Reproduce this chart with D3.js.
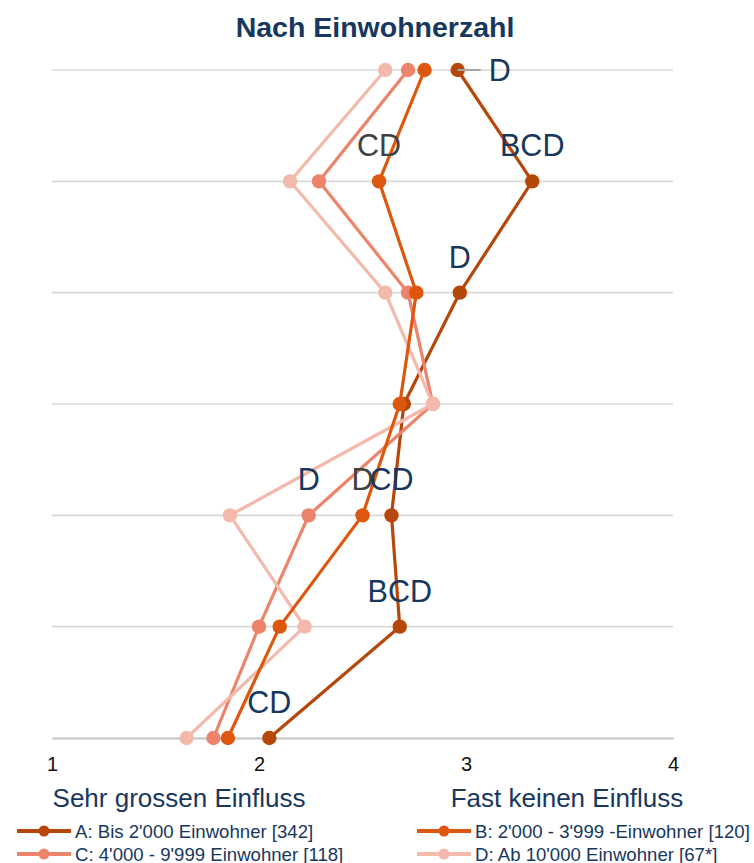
<!DOCTYPE html>
<html>
<head>
<meta charset="utf-8">
<script src="https://cdn.jsdelivr.net/npm/d3@7"></script>
<style>
  html, body { margin: 0; padding: 0; background: #fff; }
  svg { display: block; font-family: "Liberation Sans", Arial, sans-serif; }
</style>
</head>
<body>
<svg id="chart" width="754" height="863"></svg>
<script>
// ---- data ----
const title = "Nach Einwohnerzahl";
const categories = ["1", "2", "3", "4", "5", "6", "7"];
const xTicks = [1, 2, 3, 4];
const axisTitles = ["Sehr grossen Einfluss", "Fast keinen Einfluss"];
const seriesNames = [
  "A: Bis 2'000 Einwohner [342]",
  "B: 2'000 - 3'999 -Einwohner [120]",
  "C: 4'000 - 9'999 Einwohner [118]",
  "D: Ab 10'000 Einwohner [67*]"
];
const seriesColors = ["#b5470b", "#dd570e", "#ec846b", "#f3b9ab"];
const valuesA = [2.96, 3.32, 2.97, 2.70, 2.64, 2.68, 2.05];
const valuesB = [2.80, 2.58, 2.76, 2.68, 2.50, 2.10, 1.85];
const valuesC = [2.72, 2.29, 2.72, 2.84, 2.24, 2.00, 1.78];
const valuesD = [2.61, 2.15, 2.61, 2.84, 1.86, 2.22, 1.65];
const seriesValues = [valuesA, valuesB, valuesC, valuesD];
const drawOrder = [0, 2, 3, 1];
// significance labels: series index, category index, text, tone, placement
const sigLabels = [
  { s: 0, c: 0, text: "D", tone: "blue", place: "right" },
  { s: 1, c: 1, text: "CD", tone: "gray", place: "above" },
  { s: 0, c: 1, text: "BCD", tone: "blue", place: "above" },
  { s: 0, c: 2, text: "D", tone: "blue", place: "above" },
  { s: 2, c: 4, text: "D", tone: "blue", place: "above" },
  { s: 1, c: 4, text: "D", tone: "gray", place: "above" },
  { s: 0, c: 4, text: "CD", tone: "blue", place: "above" },
  { s: 0, c: 5, text: "BCD", tone: "blue", place: "above" },
  { s: 0, c: 6, text: "CD", tone: "blue", place: "above" }
];

// ---- layout ----
const svg = d3.select("#chart");
const navy = "#17375e";
const gray = "#404040";
const x = d3.scaleLinear().domain([1, 4]).range([52, 673]);
const y = d3.scalePoint().domain(categories).range([70, 738]);

svg.append("text")
  .attr("x", 375).attr("y", 37)
  .attr("text-anchor", "middle")
  .attr("font-size", 28.5).attr("font-weight", "bold")
  .attr("fill", navy)
  .text(title);

// gridlines
svg.append("g").selectAll("line")
  .data(categories.slice(0, -1))
  .join("line")
  .attr("x1", x(1)).attr("x2", x(4))
  .attr("y1", d => y(d)).attr("y2", d => y(d))
  .attr("stroke", "#d9d9d9").attr("stroke-width", 1.6);

// x axis
const xAxis = d3.axisBottom(x).tickValues(xTicks).tickSize(0).tickPadding(0).tickFormat(d3.format("d"));
const gx = svg.append("g").attr("transform", `translate(0,${y(categories[categories.length - 1])})`).call(xAxis);
gx.select(".domain").attr("stroke", "#c4c4c4").attr("stroke-width", 2);
gx.selectAll(".tick text")
  .attr("dy", 0).attr("y", 33)
  .style("font-size", "20px")
  .style("font-family", "'Liberation Sans', Arial, sans-serif")
  .attr("fill", "#111");

svg.append("text").attr("x", 179).attr("y", 807).attr("text-anchor", "middle")
  .attr("font-size", 26).attr("fill", navy).text(axisTitles[0]);
svg.append("text").attr("x", 567).attr("y", 807).attr("text-anchor", "middle")
  .attr("font-size", 26).attr("fill", navy).text(axisTitles[1]);

// series
const line = d3.line().x(d => x(d.v)).y(d => y(d.c));
drawOrder.forEach(si => {
  const pts = seriesValues[si].map((v, i) => ({ v, c: categories[i] }));
  const g = svg.append("g");
  g.append("path").datum(pts)
    .attr("d", line).attr("fill", "none")
    .attr("stroke", seriesColors[si]).attr("stroke-width", 3.2)
    .attr("stroke-linejoin", "round");
  g.selectAll("circle").data(pts).join("circle")
    .attr("cx", d => x(d.v)).attr("cy", d => y(d.c)).attr("r", 7.2)
    .attr("fill", seriesColors[si]);
});

// significance labels
sigLabels.forEach(l => {
  const px = x(seriesValues[l.s][l.c]);
  const py = y(categories[l.c]);
  const col = l.tone === "gray" ? gray : navy;
  if (l.place === "right") {
    svg.append("line").attr("x1", px).attr("x2", px + 23)
      .attr("y1", py).attr("y2", py)
      .attr("stroke", "#a6a6a6").attr("stroke-width", 2);
    svg.append("text").attr("x", px + 31).attr("y", py + 11)
      .attr("font-size", 30.5).attr("fill", col).text(l.text);
  } else {
    svg.append("text").attr("x", px).attr("y", py - 25)
      .attr("text-anchor", "middle")
      .attr("font-size", 30.5).attr("fill", col).text(l.text);
  }
});

// legend
const legendPos = [[17, 831], [417, 831], [17, 854], [417, 854]];
seriesNames.forEach((name, i) => {
  const [lx, ly] = legendPos[i];
  const g = svg.append("g").attr("transform", `translate(${lx},${ly})`);
  g.append("line").attr("x1", 0).attr("x2", 54).attr("y1", 0).attr("y2", 0)
    .attr("stroke", seriesColors[i]).attr("stroke-width", 4);
  g.append("circle").attr("cx", 27).attr("cy", 0).attr("r", 5.5).attr("fill", seriesColors[i]);
  g.append("text").attr("x", 58).attr("y", 6.5)
    .attr("font-size", 18.6).attr("fill", navy).text(name);
});
</script>
</body>
</html>
